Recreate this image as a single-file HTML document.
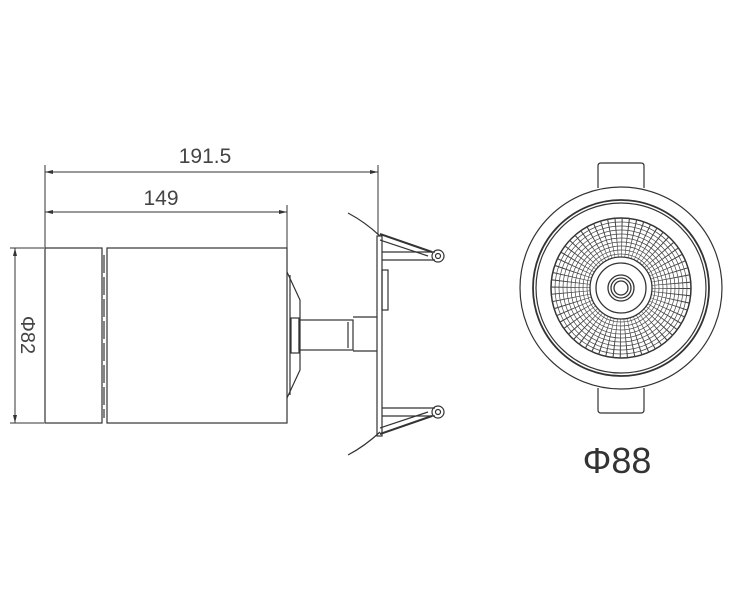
<!DOCTYPE html>
<html><head><style>body{margin:0;background:#fff}svg{display:block}</style></head><body>
<svg width="743" height="608" viewBox="0 0 743 608" xmlns="http://www.w3.org/2000/svg" font-family="Liberation Sans, sans-serif">
<g stroke="#333" stroke-width="1" fill="none">
<line x1="45" y1="172" x2="378" y2="172"/>
<line x1="45" y1="212" x2="287" y2="212"/>
<line x1="45" y1="165" x2="45" y2="248"/>
<line x1="378" y1="165" x2="378" y2="235"/>
<line x1="287" y1="205" x2="287" y2="248"/>
<line x1="15" y1="248" x2="15" y2="423"/>
<line x1="10" y1="248" x2="44" y2="248"/>
<line x1="10" y1="423" x2="44" y2="423"/>
</g>
<g fill="#333">
<path d="M45 172 l8 -2 v4z"/><path d="M378 172 l-8 -2 v4z"/>
<path d="M45 212 l8 -2 v4z"/><path d="M287 212 l-8 -2 v4z"/>
<path d="M15 248 l-2 8 h4z"/><path d="M15 423 l-2 -8 h4z"/>
</g>
<text x="205" y="163" font-size="21" fill="#444" text-anchor="middle">191.5</text>
<text x="161" y="205" font-size="21" fill="#444" text-anchor="middle">149</text>
<text x="0" y="0" font-size="20" fill="#444" text-anchor="middle" transform="translate(21,335) rotate(90)">Φ82</text>
<g stroke="#333" stroke-width="1.2" fill="none">
<rect x="45" y="248" width="57" height="175"/>
<rect x="107" y="248" width="180" height="175"/>
<line x1="104" y1="255" x2="104" y2="418" stroke-dasharray="18 4"/>
<path d="M287 272 L300 300 L300 370 L287 398"/>
<line x1="290" y1="275" x2="290" y2="395"/>
<rect x="291" y="318" width="8" height="35"/>
<rect x="299" y="320" width="54" height="30"/>
<line x1="348" y1="322" x2="348" y2="348"/>
<line x1="353" y1="317" x2="377" y2="317"/>
<line x1="353" y1="351" x2="377" y2="351"/>
<rect x="377" y="236" width="5" height="200"/>
<rect x="382" y="270" width="6" height="40"/>
<path d="M348 213 Q365 222 380 236"/>
<path d="M380 234 L432 252" stroke-width="2"/>
<path d="M380 240 L428 256"/>
<line x1="382" y1="252" x2="435" y2="252"/>
<line x1="382" y1="260" x2="435" y2="260"/>
<circle cx="438" cy="256" r="6"/><circle cx="438" cy="256" r="2.5"/>
<path d="M348 455 Q365 446 380 432"/>
<path d="M380 434 L432 416" stroke-width="2"/>
<path d="M380 428 L428 412"/>
<line x1="382" y1="408" x2="435" y2="408"/>
<line x1="382" y1="416" x2="435" y2="416"/>
<circle cx="438" cy="412" r="6"/><circle cx="438" cy="412" r="2.5"/>
</g>
<g stroke="#333" stroke-width="1.2" fill="none">
<path d="M598 188 V166 Q598 163 601 163 H641 Q644 163 644 166 V188"/>
<path d="M598 388 V410 Q598 413 601 413 H641 Q644 413 644 410 V388"/>
<circle cx="621" cy="288" r="101" fill="#fff"/>
<circle cx="621" cy="288" r="88" stroke-width="1.8"/>
<circle cx="621" cy="288" r="85"/>
<circle cx="621" cy="288" r="70" stroke-width="1.5"/>
</g>
<g stroke="#444" stroke-width="0.7" fill="none">
<circle cx="621" cy="288" r="66"/><circle cx="621" cy="288" r="62"/><circle cx="621" cy="288" r="58"/>
<circle cx="621" cy="288" r="54"/><circle cx="621" cy="288" r="50"/><circle cx="621" cy="288" r="46"/>
<circle cx="621" cy="288" r="42"/><circle cx="621" cy="288" r="38"/><circle cx="621" cy="288" r="34"/>
</g>
<circle cx="621" cy="288" r="50.5" fill="none" stroke="#444" stroke-width="39" stroke-dasharray="0.8 4.49"/>
<g stroke="#333" stroke-width="1.3" fill="#fff">
<circle cx="621" cy="288" r="31"/>
<circle cx="621" cy="288" r="25" fill="none"/>
<circle cx="621" cy="288" r="13" fill="none"/>
<circle cx="621" cy="288" r="10" fill="none"/>
<circle cx="621" cy="288" r="7" fill="none"/>
</g>
<text x="617" y="473" font-size="36" fill="#333" text-anchor="middle">Φ88</text>
</svg>
</body></html>
